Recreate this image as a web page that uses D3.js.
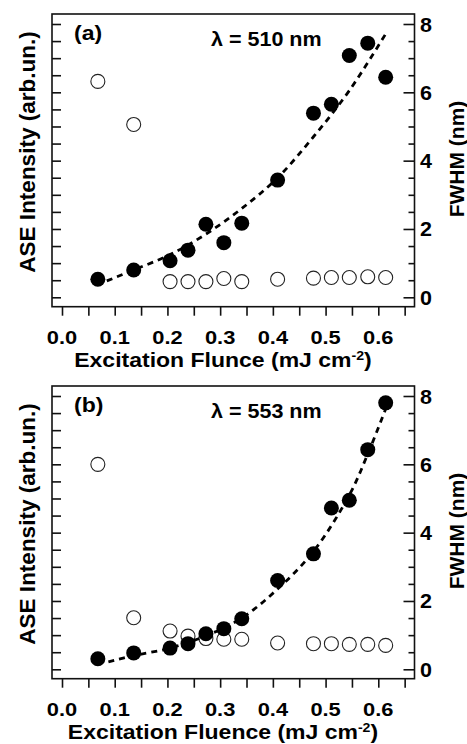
<!DOCTYPE html>
<html>
<head>
<meta charset="utf-8">
<script src="https://cdn.jsdelivr.net/npm/d3@7"></script>
<style>
  html, body { margin: 0; padding: 0; background: #fff; }
  svg { display: block; }
  text { font-family: "Liberation Sans", Arial, sans-serif; font-weight: bold; fill: #000; }
</style>
</head>
<body>
<div id="chart"></div>
<script>
// excitation fluence (mJ cm^-2), same for both panels
const fluence = [0.068, 0.136, 0.205, 0.239, 0.273, 0.307, 0.341, 0.409, 0.477, 0.511, 0.545, 0.580, 0.614];

// panel (a), lambda = 510 nm
const aseA  = [0.53, 0.80, 1.07, 1.38, 2.14, 1.60, 2.17, 3.43, 5.39, 5.65, 7.08, 7.44, 6.44];
const fwhmA = [6.32, 5.06, 0.46, 0.46, 0.46, 0.55, 0.46, 0.53, 0.56, 0.58, 0.58, 0.60, 0.58];
const fitXA = [0.085, 0.136, 0.205, 0.273, 0.341, 0.409, 0.477, 0.545, 0.616];
const fitYA = [0.48, 0.80, 1.25, 1.85, 2.60, 3.50, 4.70, 6.05, 7.76];

// panel (b), lambda = 553 nm
const aseB  = [0.31, 0.48, 0.62, 0.75, 1.04, 1.19, 1.48, 2.60, 3.38, 4.72, 4.95, 6.43, 7.80];
const fwhmB = [6.00, 1.51, 1.12, 0.97, 0.90, 0.88, 0.88, 0.77, 0.75, 0.75, 0.73, 0.73, 0.70];
const fitXB = [0.088, 0.136, 0.205, 0.273, 0.341, 0.409, 0.477, 0.545, 0.580, 0.616];
const fitYB = [0.22, 0.40, 0.62, 0.98, 1.50, 2.35, 3.45, 5.10, 6.30, 7.70];

const xTickLabels = [0.0, 0.1, 0.2, 0.3, 0.4, 0.5, 0.6];
const xTicksAll = [0, 0.05, 0.1, 0.15, 0.2, 0.25, 0.3, 0.35, 0.4, 0.45, 0.5, 0.55, 0.6, 0.65];
const yTickLabels = [0, 2, 4, 6, 8];
const yTicksAll = [0, 0.5, 1, 1.5, 2, 2.5, 3, 3.5, 4, 4.5, 5, 5.5, 6, 6.5, 7, 7.5, 8];

const panels = [
  { tag: "(a)", lambda: "\u03bb = 510 nm", title: "Excitation Flunce (mJ cm", ase: aseA, fwhm: fwhmA, fitX: fitXA, fitY: fitYA },
  { tag: "(b)", lambda: "\u03bb = 553 nm", title: "Excitation Fluence (mJ cm", ase: aseB, fwhm: fwhmB, fitX: fitXB, fitY: fitYB }
];

const width = 467, height = 744, panelH = 372;
const frame = { left: 52, right: 414.5, top: 14, bottom: 306.7 };

const x = d3.scaleLinear().domain([0, 0.6]).range([62, 378.3]);
const y = d3.scaleLinear().domain([0, 8]).range([297.3, 24]);

const svg = d3.select("#chart")
  .append("svg")
  .attr("width", width)
  .attr("height", height)
  .attr("viewBox", `0 0 ${width} ${height}`);

// text drawn slightly wide, like the scanned figure
function wideText(g, tx, ty, size, sx, str, anchor) {
  return g.append("text")
    .attr("transform", `translate(${tx},${ty}) scale(${sx},1)`)
    .attr("font-size", size)
    .attr("text-anchor", anchor || "start")
    .text(str);
}

panels.forEach((p, i) => {
  const g = svg.append("g").attr("transform", `translate(0,${i * panelH})`);

  // ticks
  g.append("g")
    .attr("transform", `translate(0,${frame.bottom})`)
    .call(d3.axisBottom(x).tickValues(xTicksAll).tickSize(9).tickFormat(""))
    .call(a => a.select(".domain").remove())
    .call(a => a.selectAll("line").attr("stroke", "#111").attr("stroke-width", 1.6));

  g.append("g")
    .attr("transform", `translate(${frame.left},0)`)
    .call(d3.axisRight(y).tickValues(yTicksAll).tickSize(9).tickFormat(""))
    .call(a => a.select(".domain").remove())
    .call(a => a.selectAll("line").attr("stroke", "#111").attr("stroke-width", 1.6));

  g.append("g")
    .attr("transform", `translate(${frame.right},0)`)
    .call(d3.axisLeft(y).tickValues(yTicksAll.filter(v => v % 2 !== 0)).tickSize(6).tickFormat(""))
    .call(a => a.select(".domain").remove())
    .call(a => a.selectAll("line").attr("stroke", "#111").attr("stroke-width", 1.6));

  g.append("g")
    .attr("transform", `translate(${frame.right},0)`)
    .call(d3.axisLeft(y).tickValues(yTickLabels).tickSize(11).tickFormat(""))
    .call(a => a.select(".domain").remove())
    .call(a => a.selectAll("line").attr("stroke", "#111").attr("stroke-width", 1.6));

  // frame
  g.append("rect")
    .attr("x", frame.left).attr("y", frame.top)
    .attr("width", frame.right - frame.left)
    .attr("height", frame.bottom - frame.top)
    .attr("fill", "none").attr("stroke", "#111").attr("stroke-width", 1.6);

  // tick labels
  xTickLabels.forEach(v => wideText(g, x(v), 344, 19, 1.15, d3.format(".1f")(v), "middle"));
  yTickLabels.forEach(v => wideText(g, 420, y(v) + 7.5, 20.5, 1.05, String(v)));

  // axis titles
  const xt = g.append("text")
    .attr("transform", `translate(223,367) scale(1.18,1)`)
    .attr("font-size", 19.5)
    .attr("text-anchor", "middle");
  xt.append("tspan").text(p.title);
  xt.append("tspan").attr("font-size", 12).attr("dy", -7).text("-2");
  xt.append("tspan").attr("dy", 7).text(")");

  g.append("text")
    .attr("transform", `translate(35,152) rotate(-90)`)
    .attr("font-size", 22.5)
    .attr("text-anchor", "middle")
    .text("ASE Intensity (arb.un.)");

  g.append("text")
    .attr("transform", `translate(464,159) rotate(-90)`)
    .attr("font-size", 21)
    .attr("text-anchor", "middle")
    .text("FWHM (nm)");

  // annotations
  wideText(g, 74, 40, 20, 1.15, p.tag);
  wideText(g, 211, 46, 20.5, 1.05, p.lambda);

  // FWHM, open circles
  g.append("g").selectAll("circle")
    .data(fluence)
    .join("circle")
    .attr("cx", d => x(d))
    .attr("cy", (d, k) => y(p.fwhm[k]))
    .attr("r", 7)
    .attr("fill", "none")
    .attr("stroke", "#222")
    .attr("stroke-width", 1.1);

  // fit
  const line = d3.line()
    .x(d => x(d[0]))
    .y(d => y(d[1]))
    .curve(d3.curveCatmullRom);
  g.append("path")
    .datum(d3.zip(p.fitX, p.fitY))
    .attr("d", line)
    .attr("fill", "none")
    .attr("stroke", "#000")
    .attr("stroke-width", 2.8)
    .attr("stroke-dasharray", "6,5");

  // ASE intensity, filled circles
  g.append("g").selectAll("circle")
    .data(fluence)
    .join("circle")
    .attr("cx", d => x(d))
    .attr("cy", (d, k) => y(p.ase[k]))
    .attr("r", 7.5)
    .attr("fill", "#000");
});
</script>
</body>
</html>
